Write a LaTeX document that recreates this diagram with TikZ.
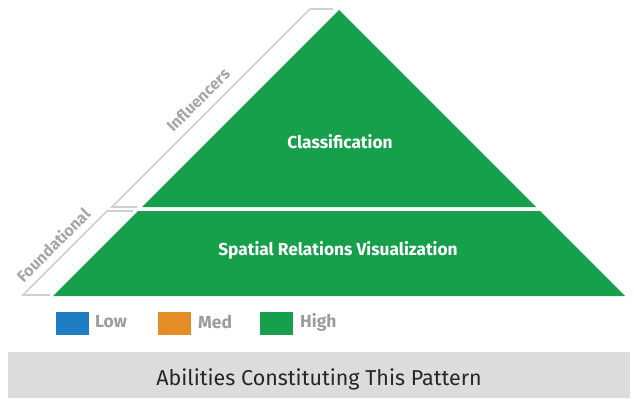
\documentclass[tikz,border=0pt]{standalone}
\usepackage{fontspec}
\setmainfont{Fira Sans}
\definecolor{pgreen}{HTML}{16A04B}
\definecolor{pblue}{HTML}{1F7DC4}
\definecolor{porange}{HTML}{E68C27}
\definecolor{bandgray}{HTML}{CFCFCF}
\definecolor{labgray}{HTML}{A6A6A6}
\definecolor{legtext}{HTML}{9C9C9C}
\definecolor{footgray}{HTML}{DCDCDE}
\begin{document}
\begin{tikzpicture}[x=1pt,y=-1pt,
  bandline/.style={draw=bandgray,line width=1.6pt,line join=miter},
  sidelabel/.style={text=labgray,font=\bfseries\fontsize{16}{18}\selectfont,rotate=45,inner sep=0pt},
  tierlabel/.style={text=white,font=\bfseries\fontsize{17.3}{19}\selectfont,inner sep=0pt},
  legbox/.style={minimum width=33pt,minimum height=23pt,inner sep=0pt},
  legtxt/.style={text=legtext,font=\bfseries\fontsize{17.5}{19}\selectfont,anchor=west,inner sep=0pt}]
\useasboundingbox (0,0) rectangle (634,402);
% pyramid
\fill[pgreen] (339,10) -- (536,207) -- (142,207) -- cycle;
\fill[pgreen] (138,211) -- (540,211) -- (625,296) -- (53,296) -- cycle;
% side bands
\draw[bandline] (333,9) -- (310,9) -- (112,207) -- (137,207);
\draw[bandline] (133,211) -- (107,211) -- (23,295) -- (50,295);
\node[sidelabel] (infl) at (198,100) {Influencers};
\node[sidelabel] (found) at (53,245) {Foundational};
% tier labels
\node[tierlabel] (cls) at (340,142) {Classification};
\node[tierlabel] (srv) at (338,250) {Spatial Relations Visualization};
% legend
\node[legbox,fill=pblue] (lowbox) at (72,323) {};
\node[legtxt] (lowtxt) at (95,322) {Low};
\node[legbox,fill=porange] (medbox) at (174,323) {};
\node[legtxt] (medtxt) at (198,322) {Med};
\node[legbox,fill=pgreen] (highbox) at (276,323) {};
\node[legtxt] (hightxt) at (300,322) {High};
% footer
\fill[footgray] (8,352) rectangle (630,398);
\node[font=\fontsize{21.5}{23}\selectfont,text=black!85,inner sep=0pt] (foot) at (319,379) {Abilities Constituting This Pattern};
\end{tikzpicture}
\end{document}
